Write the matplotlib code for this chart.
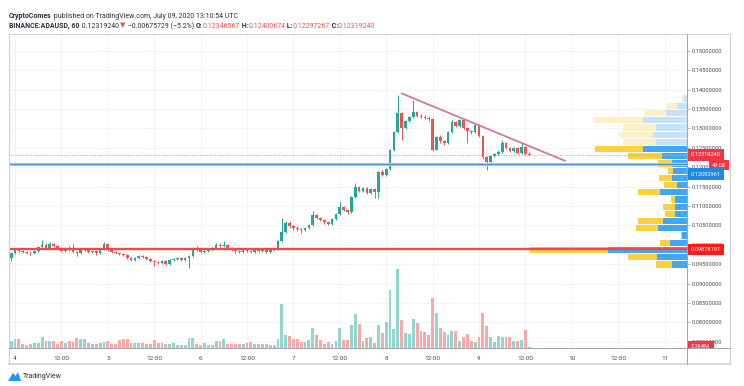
import numpy as np
import matplotlib
matplotlib.use("Agg")
import matplotlib.pyplot as plt
from matplotlib.patches import Polygon
from matplotlib.lines import Line2D
from matplotlib.transforms import Bbox, TransformedBbox

plt.rcParams['font.family'] = ['Roboto', 'DejaVu Sans']

# ── data: ADAUSD hourly candles, Jul 3 23:00 -> Jul 9 13:00 UTC ─────────
start_hour = -1          # first candle, hours from Jul 4 00:00
first_open = 0.0966

close = [
    0.0979, 0.0987, 0.0984, 0.0981, 0.0980, 0.0978, 0.0984, 0.0994, 0.0999, 0.0992,
    0.1002, 0.0997, 0.0992, 0.0984, 0.0989, 0.0987, 0.0981, 0.0979, 0.0987, 0.0988,
    0.0981, 0.0984, 0.0979, 0.0989, 0.1002, 0.0987, 0.0981, 0.0979, 0.0976, 0.0974,
    0.0966, 0.0961, 0.0966, 0.0971, 0.0968, 0.0963, 0.0958, 0.0955, 0.0953, 0.0958,
    0.0950, 0.0961, 0.0963, 0.0966, 0.0961, 0.0966, 0.0971, 0.0992, 0.0987, 0.0981,
    0.0984, 0.0987, 0.0992, 0.0999, 0.0997, 0.1000, 0.0992, 0.0987, 0.0984, 0.0981,
    0.0987, 0.0984, 0.0981, 0.0987, 0.0984, 0.0987, 0.0981, 0.0987, 0.0989, 0.1010,
    0.1033, 0.1056, 0.1048, 0.1043, 0.1041, 0.1038, 0.1043, 0.1051, 0.1077, 0.1069,
    0.1064, 0.1059, 0.1054, 0.1066, 0.1079, 0.1097, 0.1090, 0.1084, 0.1123, 0.1149,
    0.1139, 0.1146, 0.1133, 0.1144, 0.1136, 0.1188, 0.1180, 0.1195, 0.1244, 0.1290,
    0.1339, 0.1301, 0.1319, 0.1329, 0.1342, 0.1332, 0.1329, 0.1327, 0.1324, 0.1244,
    0.1278, 0.1267, 0.1262, 0.1290, 0.1316, 0.1306, 0.1321, 0.1301, 0.1293, 0.1290,
    0.1309, 0.1280, 0.1226, 0.1213, 0.1229, 0.1234, 0.1239, 0.1262, 0.1249, 0.1242,
    0.1249, 0.1236, 0.1252, 0.12347, 0.12319]

high = [
    0.0982, 0.0990, 0.0992, 0.0987, 0.0985, 0.0983, 0.0987, 0.0997, 0.1012, 0.1004,
    0.1007, 0.1005, 0.0999, 0.0994, 0.0994, 0.0997, 0.1002, 0.0984, 0.0990, 0.0992,
    0.0990, 0.0987, 0.0986, 0.0992, 0.1007, 0.1004, 0.0989, 0.0984, 0.0981, 0.0979,
    0.0976, 0.0968, 0.0969, 0.0974, 0.0974, 0.0971, 0.0966, 0.0961, 0.0958, 0.0961,
    0.0961, 0.0963, 0.0966, 0.0968, 0.0968, 0.0968, 0.0974, 0.0994, 0.0997, 0.0989,
    0.0987, 0.0989, 0.0994, 0.1004, 0.1004, 0.1010, 0.1002, 0.0994, 0.0989, 0.0987,
    0.0989, 0.0989, 0.0987, 0.0989, 0.0989, 0.0989, 0.0989, 0.0989, 0.0992, 0.1012,
    0.1069, 0.1061, 0.1061, 0.1051, 0.1048, 0.1043, 0.1046, 0.1054, 0.1087, 0.1079,
    0.1072, 0.1066, 0.1061, 0.1069, 0.1082, 0.1110, 0.1100, 0.1092, 0.1126, 0.1159,
    0.1152, 0.1149, 0.1149, 0.1146, 0.1146, 0.1190, 0.1193, 0.1198, 0.1247, 0.1293,
    0.1386, 0.1342, 0.1321, 0.1332, 0.1373, 0.1345, 0.1337, 0.1334, 0.1332, 0.1327,
    0.1280, 0.1283, 0.1270, 0.1293, 0.1321, 0.1319, 0.1324, 0.1324, 0.1303, 0.1296,
    0.1311, 0.1311, 0.1283, 0.1229, 0.1231, 0.1236, 0.1244, 0.1270, 0.1265, 0.1252,
    0.1252, 0.1252, 0.1262, 0.1255, 0.12401]

low = [
    0.0958, 0.0977, 0.0982, 0.0979, 0.0977, 0.0974, 0.0976, 0.0982, 0.0992, 0.0989,
    0.0990, 0.0994, 0.0989, 0.0981, 0.0982, 0.0984, 0.0979, 0.0971, 0.0976, 0.0984,
    0.0978, 0.0979, 0.0974, 0.0977, 0.0987, 0.0984, 0.0978, 0.0976, 0.0973, 0.0970,
    0.0963, 0.0958, 0.0958, 0.0963, 0.0965, 0.0960, 0.0955, 0.0945, 0.0950, 0.0950,
    0.0947, 0.0948, 0.0958, 0.0961, 0.0958, 0.0958, 0.0940, 0.0968, 0.0984, 0.0978,
    0.0979, 0.0981, 0.0984, 0.0989, 0.0994, 0.0994, 0.0989, 0.0984, 0.0979, 0.0978,
    0.0979, 0.0981, 0.0978, 0.0979, 0.0981, 0.0981, 0.0978, 0.0979, 0.0984, 0.0987,
    0.1007, 0.1030, 0.1043, 0.1038, 0.1036, 0.1030, 0.1036, 0.1041, 0.1048, 0.1066,
    0.1061, 0.1054, 0.1051, 0.1051, 0.1064, 0.1077, 0.1087, 0.1079, 0.1082, 0.1120,
    0.1136, 0.1136, 0.1131, 0.1131, 0.1120, 0.1120, 0.1177, 0.1177, 0.1193, 0.1241,
    0.1288, 0.1270, 0.1298, 0.1316, 0.1327, 0.1329, 0.1327, 0.1324, 0.1319, 0.1241,
    0.1244, 0.1262, 0.1257, 0.1260, 0.1288, 0.1303, 0.1303, 0.1298, 0.1262, 0.1285,
    0.1288, 0.1278, 0.1221, 0.1193, 0.1208, 0.1226, 0.1231, 0.1236, 0.1247, 0.1239,
    0.1239, 0.1234, 0.1234, 0.1231, 0.12297]

# volume, millions of ADA
volume = [
    17.5, 22.5, 22.5, 10, 7.5, 10, 12.5, 12.5, 27.5, 17.5,
    17.5, 17.5, 10, 17.5, 12.5, 17.5, 15, 25, 22.5, 22.5,
    12.5, 10, 10, 12.5, 15, 17.5, 10, 10, 20, 22.5,
    22.5, 12.5, 12.5, 12.5, 12.5, 10, 10, 20, 12.5, 12.5,
    10, 10, 12.5, 7.5, 7.5, 7.5, 25, 25, 10, 7.5,
    12.5, 7.5, 7.5, 17.5, 17.5, 22.5, 10, 10, 10, 10,
    10, 12.5, 15, 10, 10, 10, 10, 7.5, 7.5, 22.5,
    110, 32.5, 30, 22.5, 22.5, 15, 15, 20, 50, 32.5,
    20, 10, 15, 10, 17.5, 50, 20, 20, 57.5, 85,
    60, 17.5, 25, 27.5, 12.5, 57.5, 37.5, 65, 145, 47.5,
    197, 70, 37.5, 35, 72.5, 62.5, 42.5, 40, 32.5, 125,
    87.5, 50, 40, 32.5, 42.5, 42.5, 17.5, 27.5, 35, 17.5,
    15, 27.5, 87.5, 55, 27.5, 15, 30, 27.5, 27.5, 27.5,
    17.5, 17.5, 20, 45, 3.264]

day_ticks = [0, 12, 24, 36, 48, 60, 72, 84, 96, 108, 120, 132, 144, 156, 168]
day_labels = ["4", "12:00", "5", "12:00", "6", "12:00", "7", "12:00",
              "8", "12:00", "9", "12:00", "10", "12:00", "11"]
price_ticks = [0.075, 0.080, 0.085, 0.090, 0.095, 0.100, 0.105, 0.110,
               0.115, 0.120, 0.125, 0.130, 0.135, 0.140, 0.145, 0.150]

# visible-range volume profile, 24 rows bottom -> top (up = blue, down = yellow)
profile_up = [150, 300, 790, 170, 50, 290, 240, 120, 120, 120, 270, 100,
              150, 140, 150, 250, 440, 310, 340, 310, 440, 210, 100, 30]
profile_down = [160, 290, 780, 100, 10, 220, 250, 100, 120, 40, 220, 130,
                130, 50, 140, 340, 480, 330, 330, 330, 500, 220, 100, 20]
value_area_rows = 17      # rows below this index are in the value area

last_price = 0.12319240
support_level = 0.12082961
base_level = 0.09878197
trend_hours = [100.0, 142.3]
trend_prices = [0.1390, 0.1216]
countdown = "49:08"
last_volume = "3.264M"

# ── colours ──────────────────────────────────────────────────
GREEN, RED = '#26a69a', '#ef5350'
VGREEN, VRED = '#93d6cf', '#f8aaa8'
TXT = '#4a4a4a'
GRID = '#eef1f6'

W, H = 744, 386
fig = plt.figure(figsize=(W / 100, H / 100), dpi=100)
fig.patch.set_facecolor('white')


def fx(px):
    return px / W


def fy(py):
    return 1 - py / H


ax = fig.add_axes([fx(10), 38 / H, 677 / W, 314 / H])

n = len(close)
hours = start_hour + np.arange(n)
closes = np.array(close)
opens = np.array([first_open] + close[:-1])
rising = closes >= opens
ccol = np.where(rising, GREEN, RED)

# candles
ax.vlines(hours, low, high, colors=ccol, lw=0.7, zorder=3)
body = np.maximum(np.abs(closes - opens), 0.00014)
ax.bar(hours, body, bottom=np.minimum(opens, closes), width=0.7,
       color=ccol, zorder=3)

ax.set_xlim(-1.3, 173.8)
ax.set_ylim(0.07339, 0.15431)
ax.set_xticks(day_ticks)
ax.set_xticklabels(day_labels)
ax.set_yticks(price_ticks)
ax.set_yticklabels([f"{p:.8f}" for p in price_ticks])
ax.grid(True, color=GRID, lw=0.6, zorder=0)
for s in ax.spines.values():
    s.set_visible(False)

# volume pane overlay
axv = ax.twinx()
axv.bar(hours, volume, width=0.74, color=np.where(rising, VGREEN, VRED), zorder=2)
axv.set_ylim(0, max(volume) / 0.252)
axv.axis('off')

ax.yaxis.tick_right()
ax.tick_params(axis='y', length=2, width=0.5, color='#9a9a9a',
               labelsize=4.1, labelcolor=TXT, pad=1.6)
ax.tick_params(axis='x', length=0, labelsize=4.6, labelcolor=TXT, pad=5.5)

# volume profile overlay, anchored at the right edge
axp = ax.twiny()
edges = np.linspace(min(low), max(high), len(profile_up) + 1)
rh = edges[1] - edges[0]
centers = edges[:-1] + rh / 2
for k, (u, d) in enumerate(zip(profile_up, profile_down)):
    inside = k < value_area_rows
    cu = '#42a5f5' if inside else '#c6e2f8'
    cd = '#fcd03f' if inside else '#fdefc6'
    axp.barh(centers[k], u, height=rh * 0.86, left=0, color=cu, lw=0)
    axp.barh(centers[k], d, height=rh * 0.86, left=u, color=cd, lw=0)
tot = np.array(profile_up) + np.array(profile_down)
axp.set_xlim(tot.max() / 0.232, 0)
axp.axis('off')

# levels and trend line
axp.axhline(support_level, color='#b3d4f2', lw=2.4, zorder=5)
axp.axhline(support_level, color='#4d8fd4', lw=0.9, zorder=5)
axp.axhline(base_level, color='#f44848', lw=1.7, zorder=6)
axp.axhline(last_price, color='#f39a9a', lw=0.8, ls=(0, (1, 1.3)), zorder=6)
ax.plot(trend_hours, trend_prices, color='#cc79a2', lw=1.3, zorder=4,
        solid_capstyle='round')


# price tags on the right axis
def tag(axis, y, text, fc, dy=0, x_off=3, fs=4.1, ha='left', pad=0.6):
    return axis.annotate(text, xy=(1.0, y), xycoords=('axes fraction', 'data'),
                         xytext=(x_off, dy), textcoords='offset pixels',
                         ha=ha, va='center', fontsize=fs, color='white',
                         bbox=dict(boxstyle=f'square,pad={pad}', fc=fc, ec='none'),
                         annotation_clip=False, zorder=10)


tag(axp, last_price, f"{last_price:.8f}", '#f23645', x_off=4)
tag(axp, last_price, countdown, '#f23645', dy=-10.5, x_off=39, ha='right', pad=0.45)
tag(axp, support_level, f"{support_level:.8f}", '#1e88e5', dy=-10.5, x_off=4)
tag(axp, base_level, f"{base_level:.8f}", '#ff1a1a', x_off=4)
vt = tag(axv, float(last_volume[:-1]), last_volume, '#f23645', x_off=4)
vt.set_clip_box(TransformedBbox(Bbox([[fx(687), 38 / H], [fx(731), 1]]),
                                fig.transFigure))
vt.set_clip_on(True)


# frame
def fline(x0, y0, x1, y1, c='#cfd2d8', lw=0.8):
    fig.add_artist(Line2D([fx(x0), fx(x1)], [fy(y0), fy(y1)],
                          transform=fig.transFigure, color=c, lw=lw))


fline(9, 34, 730, 34)
fline(9, 364, 730, 364, lw=1.2)
fline(9, 34, 9, 364)
fline(730, 34, 730, 364)
fline(687, 34, 687, 364, c='#9ea2aa', lw=0.7)
fline(9, 348, 730, 348, c='#9ea2aa', lw=0.7)

# header, built piece by piece
renderer = fig.canvas.get_renderer()


def text_run(pieces, x, y, fs):
    for s, c, w in pieces:
        t = fig.text(fx(x), fy(y), s, color=c, fontsize=fs, fontweight=w,
                     ha='left', va='center')
        x += t.get_window_extent(renderer).width


DARK = '#2a2e39'
text_run([("CryptoComes", DARK, 'bold'),
          (" published on TradingView.com, July 09, 2020 13:10:54 UTC", DARK, 'normal')],
         9, 16, 5.0)
text_run([("BINANCE:ADAUSD, 60", DARK, 'bold'),
          (" 0.12319240 ", DARK, 'normal'),
          ("▼", RED, 'normal'),
          (" −0.00675729 (−5.2%) ", DARK, 'normal'),
          ("O:", DARK, 'bold'), ("0.12346567", RED, 'normal'),
          (" H:", DARK, 'bold'), ("0.12400674", RED, 'normal'),
          (" L:", DARK, 'bold'), ("0.12297267", RED, 'normal'),
          (" C:", DARK, 'bold'), ("0.12319240", RED, 'normal')],
         9, 26, 5.0)

# TradingView mark, bottom left
fig.add_artist(Polygon([[fx(8), fy(381)], [fx(13), fy(373)], [fx(15.5), fy(376)],
                        [fx(18), fy(372)], [fx(21), fy(381)]],
                       closed=True, transform=fig.transFigure, fc='#2196f3', ec='none'))
fig.text(fx(23), fy(377), "TradingView", fontsize=5.0, color=DARK,
         ha='left', va='center')

fig.savefig("out.png", dpi=100, facecolor='white')
